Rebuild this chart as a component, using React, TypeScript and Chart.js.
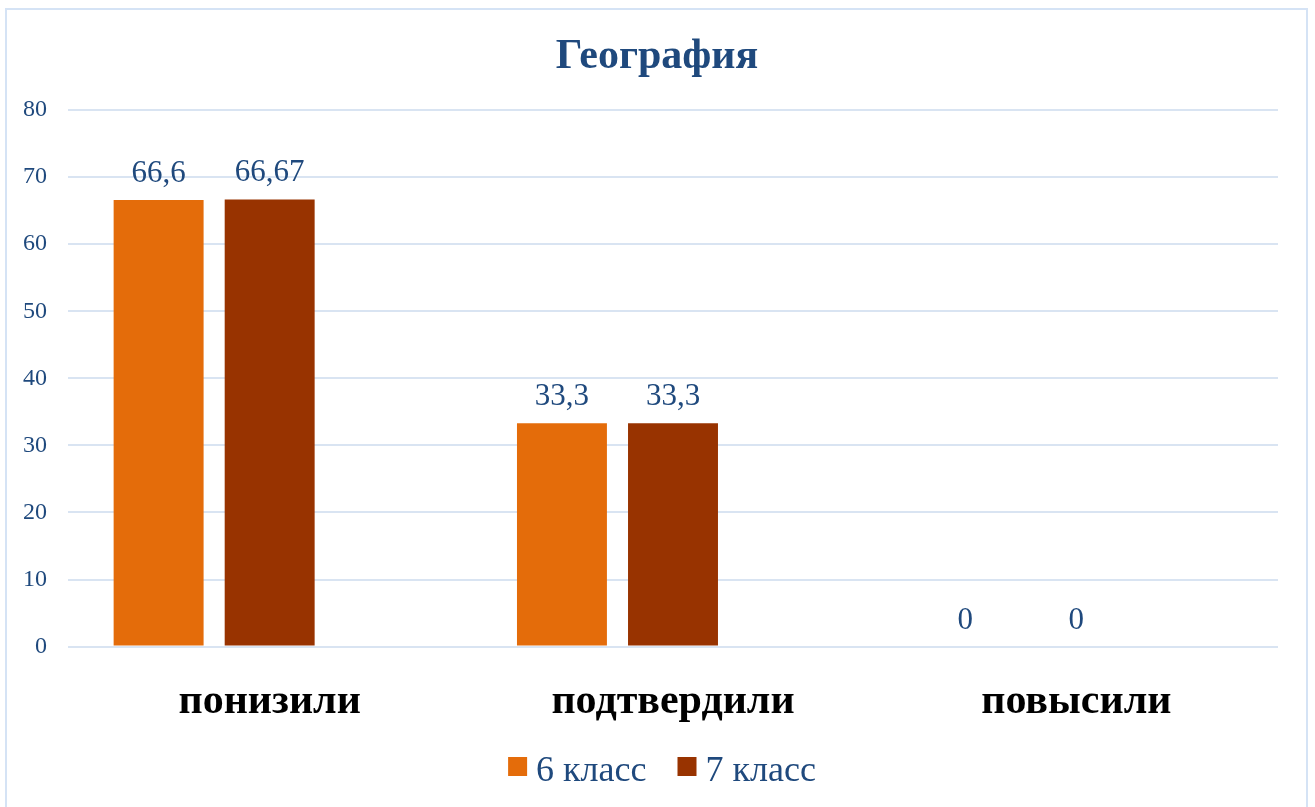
import React, { useEffect, useRef } from "react";
import { Chart, registerables } from "chart.js";

Chart.register(...registerables);

const title = "География";
const categories = ["понизили", "подтвердили", "повысили"];
const seriesNames = ["6 класс", "7 класс"];
const class6 = [66.6, 33.3, 0];
const class7 = [66.67, 33.3, 0];
// third series slot exists in the original but is empty
const emptySeries = [null, null, null];
const colors = ["#e46c0a", "#983300"];
const yTicks = [0, 10, 20, 30, 40, 50, 60, 70, 80];

const FONT = "'Liberation Serif', 'Times New Roman', serif";
const TEXT = "#1f497d";

const valueLabels = {
  id: "valueLabels",
  afterDatasetsDraw(chart: any) {
    const ctx = chart.ctx;
    ctx.save();
    ctx.font = `31px ${FONT}`;
    ctx.fillStyle = TEXT;
    ctx.textAlign = "center";
    ctx.textBaseline = "alphabetic";
    chart.data.datasets.forEach((ds: any, i: number) => {
      const meta = chart.getDatasetMeta(i);
      meta.data.forEach((bar: any, j: number) => {
        const v = ds.data[j];
        if (v === null || v === undefined) return;
        ctx.fillText(String(v).replace(".", ","), bar.x, bar.y - 18);
      });
    });
    ctx.restore();
  },
};

const frame = {
  id: "frame",
  beforeDraw(chart: any) {
    const ctx = chart.ctx;
    ctx.save();
    ctx.fillStyle = "#ffffff";
    ctx.fillRect(0, 0, chart.width, chart.height);
    ctx.strokeStyle = "#d5e3f5";
    ctx.lineWidth = 2;
    ctx.strokeRect(6, 9, 1301, 820);
    ctx.restore();
  },
};

const customTitle = {
  id: "customTitle",
  afterDraw(chart: any) {
    const ctx = chart.ctx;
    ctx.save();
    ctx.font = `bold 42px ${FONT}`;
    ctx.fillStyle = TEXT;
    ctx.textAlign = "center";
    ctx.textBaseline = "middle";
    ctx.fillText(title, 657, 57);
    ctx.restore();
  },
};

const customLegend = {
  id: "customLegend",
  afterDraw(chart: any) {
    const ctx = chart.ctx;
    ctx.save();
    ctx.font = `36px ${FONT}`;
    ctx.textBaseline = "alphabetic";
    ctx.textAlign = "left";
    const box = 19;
    const gapBoxText = 9;
    const gapItems = 31;
    const widths = seriesNames.map((n) => ctx.measureText(n).width);
    const total =
      widths.reduce((a, b) => a + b, 0) +
      seriesNames.length * (box + gapBoxText) +
      (seriesNames.length - 1) * gapItems;
    let x = 662 - total / 2;
    seriesNames.forEach((n, i) => {
      ctx.fillStyle = colors[i];
      ctx.fillRect(x, 757, box, box);
      x += box + gapBoxText;
      ctx.fillStyle = TEXT;
      ctx.fillText(n, x, 781);
      x += widths[i] + gapItems;
    });
    ctx.restore();
  },
};

export default function App() {
  const ref = useRef<HTMLCanvasElement>(null);
  useEffect(() => {
    const chart = new Chart(ref.current!, {
      type: "bar",
      data: {
        labels: categories,
        datasets: [
          { label: seriesNames[0], data: class6, backgroundColor: colors[0] },
          { label: seriesNames[1], data: class7, backgroundColor: colors[1] },
          { label: "", data: emptySeries, backgroundColor: "rgba(0,0,0,0)" },
        ],
      },
      options: {
        animation: false,
        responsive: false,
        maintainAspectRatio: false,
        layout: { padding: { left: 2, right: 37, top: 110, bottom: 58 } },
        datasets: {
          bar: { categoryPercentage: 0.826, barPercentage: 0.81 },
        },
        plugins: {
          title: { display: false },
          legend: { display: false },
          tooltip: { enabled: false },
        },
        scales: {
          x: {
            grid: { display: false },
            border: { display: false },
            ticks: {
              color: "#000000",
              font: { family: FONT, size: 42, weight: "bold" },
              padding: 22,
            },
          },
          y: {
            min: 0,
            max: 80,
            afterBuildTicks(axis: any) {
              axis.ticks = yTicks.map((v) => ({ value: v }));
            },
            grid: { color: "#d9e4f2", lineWidth: 2, drawTicks: false },
            border: { display: false },
            ticks: {
              color: TEXT,
              font: { family: FONT, size: 24 },
              padding: 21,
            },
          },
        },
      },
      plugins: [frame, valueLabels, customTitle, customLegend],
    } as any);
    return () => chart.destroy();
  }, []);
  return (
    <div style={{ position: "absolute", left: 0, top: 0, width: 1315, height: 807 }}>
      <canvas ref={ref} width={1315} height={807} style={{ display: "block" }} />
    </div>
  );
}
